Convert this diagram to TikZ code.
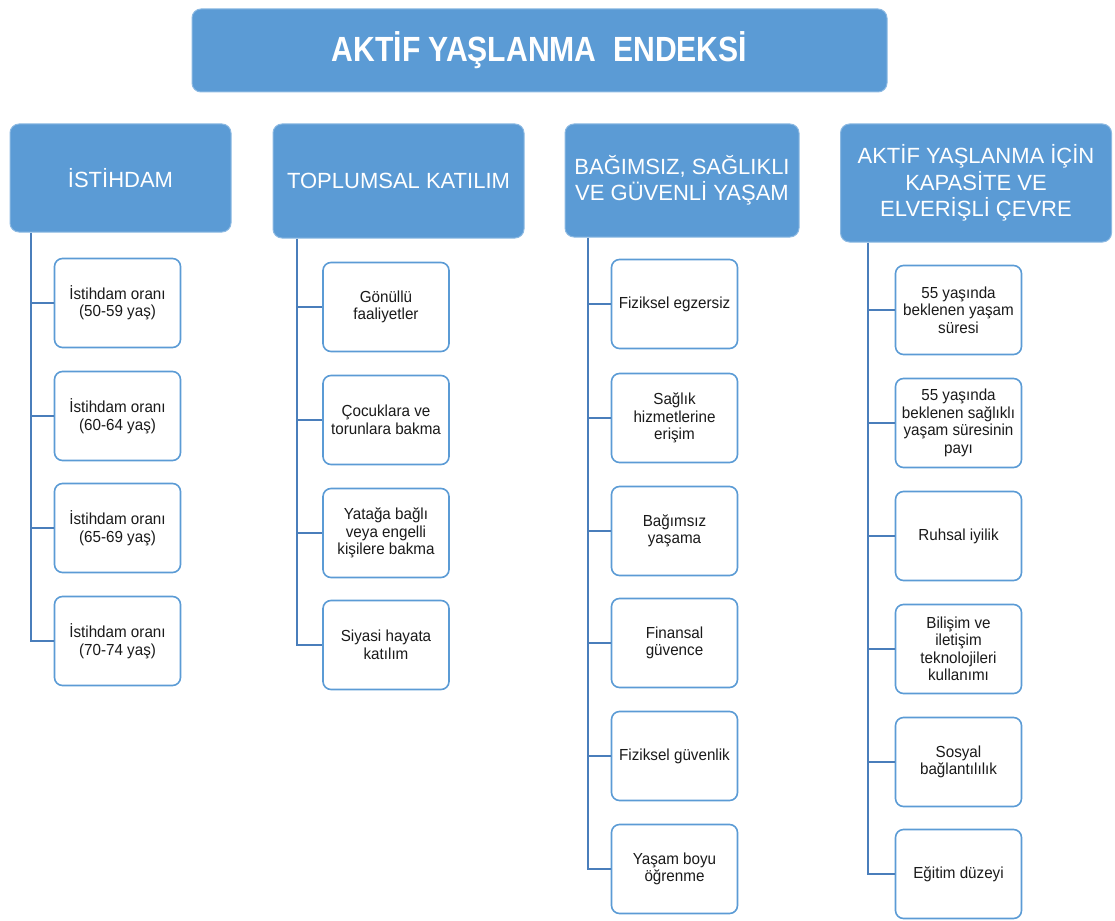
\documentclass[tikz,border=0pt]{standalone}
\usepackage{fontspec}
\setmainfont{Liberation Sans}
\newfontfamily\titlefont[FakeStretch=0.86]{Liberation Sans}
\newfontfamily\leaffont[FakeStretch=0.95]{Liberation Sans}
\begin{document}
\definecolor{boxblue}{HTML}{5B9BD5}
\definecolor{lineblue}{HTML}{4A7EBB}
\definecolor{txt}{HTML}{1A1A1A}
\begin{tikzpicture}[x=1pt,y=-1pt,
  titlebox/.style={draw=boxblue!70!white,line width=1pt,fill=boxblue,rounded corners=9pt,
    text=white,align=center,inner sep=0pt,font=\titlefont\bfseries\fontsize{35}{40}\selectfont},
  headbox/.style={draw=boxblue!70!white,line width=1pt,fill=boxblue,rounded corners=9pt,
    text=white,align=center,inner sep=0pt,font=\fontsize{22}{26.5}\selectfont},
  leafbox/.style={draw=boxblue,line width=1.6pt,fill=white,rounded corners=8pt,
    text=txt,align=center,inner sep=0pt,minimum width=126pt,minimum height=89pt,
    font=\leaffont\fontsize{16}{17.5}\selectfont},
  conn/.style={draw=lineblue,line width=1.4pt}]
\useasboundingbox (0,0) rectangle (1115,920);

% title
\node[titlebox,minimum width=695pt,minimum height=83pt] (title) at (539.5,50.5)
  {AKTİF YAŞLANMA\ \ ENDEKSİ};

% column headers
\node[headbox,minimum width=221pt,minimum height=108pt] (h1) at (120.5,178) {İSTİHDAM};
\node[headbox,minimum width=251pt,minimum height=114pt] (h2) at (398.5,181) {TOPLUMSAL KATILIM};
\node[headbox,minimum width=234pt,minimum height=113pt] (h3) at (682,180.5)
  {BAĞIMSIZ, SAĞLIKLI\\VE GÜVENLİ YAŞAM};
\node[headbox,minimum width=271pt,minimum height=118pt] (h4) at (976,183)
  {AKTİF YAŞLANMA İÇİN\\KAPASİTE VE\\ELVERİŞLİ ÇEVRE};

% trunk positions
\coordinate (t1) at (31,0);
\coordinate (t2) at (297,0);
\coordinate (t3) at (588,0);
\coordinate (t4) at (868,0);

% column 1
\node[leafbox] (a1) at (117.5,303) {İstihdam oranı\\(50-59 yaş)};
\node[leafbox] (a2) at (117.5,416) {İstihdam oranı\\(60-64 yaş)};
\node[leafbox] (a3) at (117.5,528) {İstihdam oranı\\(65-69 yaş)};
\node[leafbox] (a4) at (117.5,641) {İstihdam oranı\\(70-74 yaş)};

% column 2
\node[leafbox] (b1) at (386,307) {Gönüllü\\faaliyetler};
\node[leafbox] (b2) at (386,420) {Çocuklara ve\\torunlara bakma};
\node[leafbox] (b3) at (386,533) {Yatağa bağlı\\veya engelli\\kişilere bakma};
\node[leafbox] (b4) at (386,645) {Siyasi hayata\\katılım};

% column 3
\node[leafbox] (c1) at (674.5,304) {Fiziksel egzersiz};
\node[leafbox] (c2) at (674.5,418) {Sağlık\\hizmetlerine\\erişim};
\node[leafbox] (c3) at (674.5,531) {Bağımsız\\yaşama};
\node[leafbox] (c4) at (674.5,643) {Finansal\\güvence};
\node[leafbox] (c5) at (674.5,756) {Fiziksel güvenlik};
\node[leafbox] (c6) at (674.5,869) {Yaşam boyu\\öğrenme};

% column 4
\node[leafbox] (d1) at (958.5,310) {55 yaşında\\beklenen yaşam\\süresi};
\node[leafbox] (d2) at (958.5,423) {55 yaşında\\beklenen sağlıklı\\yaşam süresinin\\payı};
\node[leafbox] (d3) at (958.5,536) {Ruhsal iyilik};
\node[leafbox] (d4) at (958.5,649) {Bilişim ve\\iletişim\\teknolojileri\\kullanımı};
\node[leafbox] (d5) at (958.5,762) {Sosyal\\bağlantılılık};
\node[leafbox] (d6) at (958.5,874) {Eğitim düzeyi};

% connectors: trunk down each column, then a branch to every box
\draw[conn] (h1.south -| t1) |- (a4.west);
\foreach \n in {a1,a2,a3} \draw[conn] (t1 |- \n.west) -- (\n.west);
\draw[conn] (h2.south -| t2) |- (b4.west);
\foreach \n in {b1,b2,b3} \draw[conn] (t2 |- \n.west) -- (\n.west);
\draw[conn] (h3.south -| t3) |- (c6.west);
\foreach \n in {c1,c2,c3,c4,c5} \draw[conn] (t3 |- \n.west) -- (\n.west);
\draw[conn] (h4.south -| t4) |- (d6.west);
\foreach \n in {d1,d2,d3,d4,d5} \draw[conn] (t4 |- \n.west) -- (\n.west);
\end{tikzpicture}
\end{document}
